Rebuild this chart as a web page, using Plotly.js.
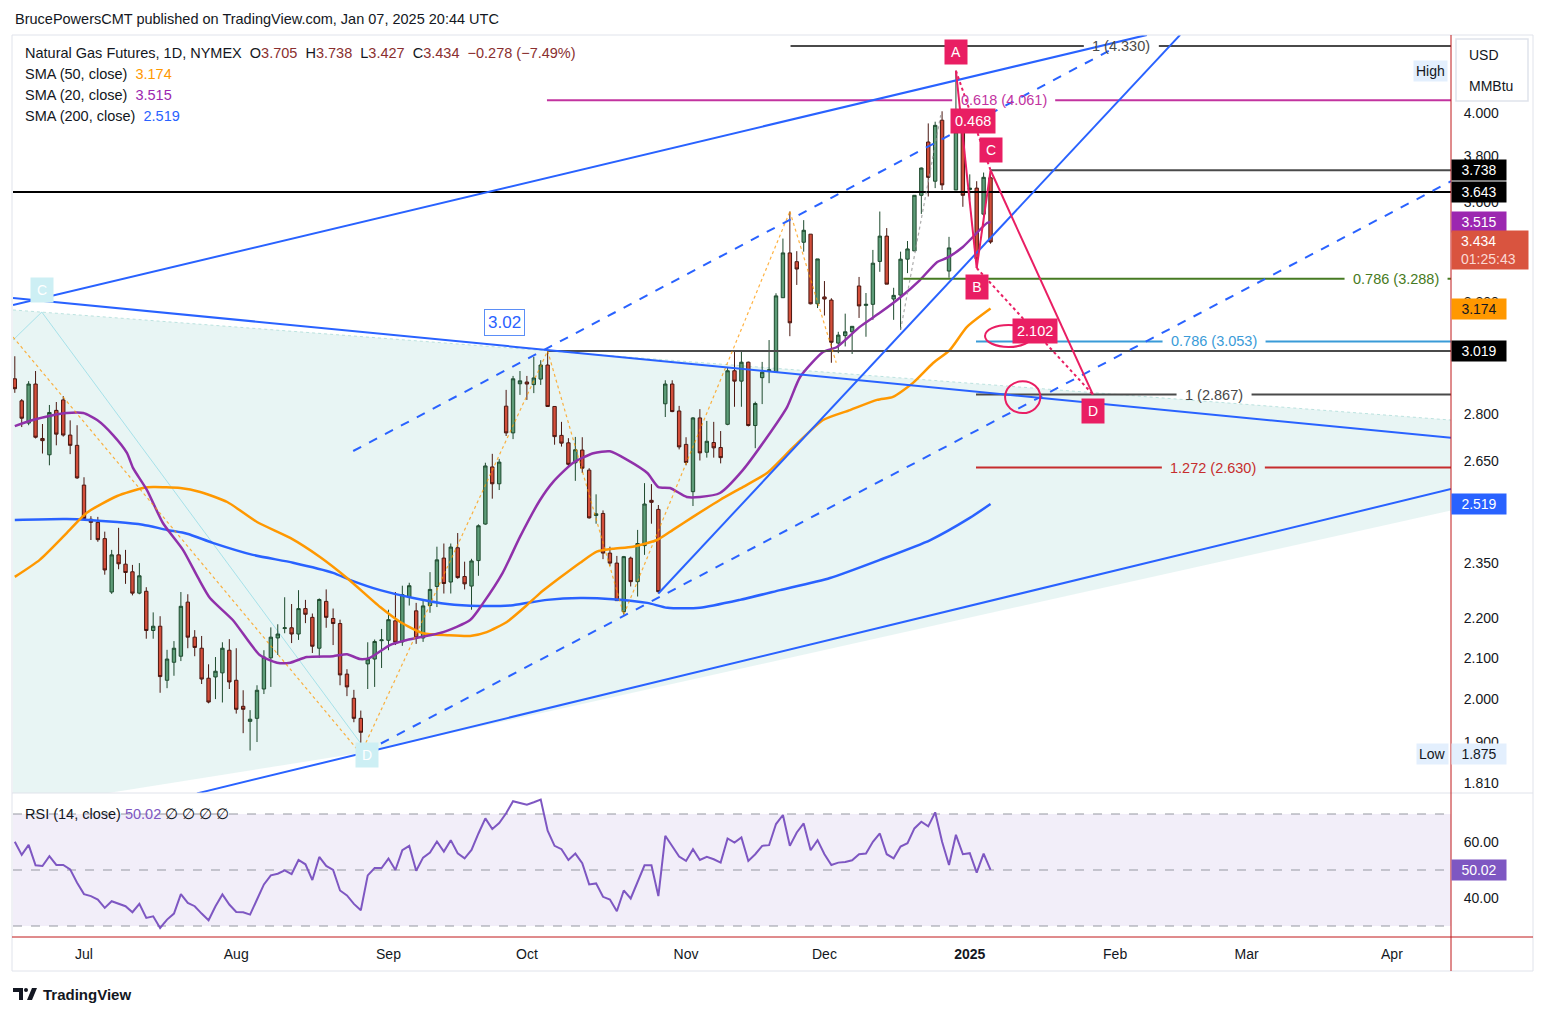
<!DOCTYPE html>
<html><head><meta charset="utf-8">
<script src="https://cdn.plot.ly/plotly-3.0.1.min.js"></script>
<style>html,body{margin:0;padding:0;background:#fff;}#chart{width:1546px;height:1016px;}</style>
</head><body><div id="chart"></div>
<script>
// ---------------- DATA ----------------
const tradingDays = [
 ["2024-06",[17,18,19,20,21,24,25,26,27,28]],
 ["2024-07",[1,2,3,5,8,9,10,11,12,15,16,17,18,19,22,23,24,25,26,29,30,31]],
 ["2024-08",[1,2,5,6,7,8,9,12,13,14,15,16,19,20,21,22,23,26,27,28,29,30]],
 ["2024-09",[3,4,5,6,9,10,11,12,13,16,17,18,19,20,23,24,25,26,27,30]],
 ["2024-10",[1,2,3,4,7,8,9,10,11,14,15,16,17,18,21,22,23,24,25,28,29,30,31]],
 ["2024-11",[1,4,5,6,7,8,11,12,13,14,15,18,19,20,21,22,25,26,27,29]],
 ["2024-12",[2,3,4,5,6,9,10,11,12,13,16,17,18,19,20,23,24,26,27,30,31]],
 ["2025-01",[2,3,6,7]]
];
const dates = tradingDays.flatMap(([m, ds]) => ds.map(d => m + "-" + String(d).padStart(2, "0")));

const open = [2.921,2.846,2.772,2.903,2.722,2.670,2.814,2.849,2.733,2.700,
2.576,2.474,2.465,2.418,2.270,2.372,2.346,2.325,2.267,2.272,
2.169,2.180,2.045,2.089,2.104,2.243,2.152,2.124,2.050,2.053,
2.063,2.119,2.045,1.983,1.948,1.955,2.024,2.100,2.150,2.174,
2.176,2.160,2.226,2.203,2.124,2.245,2.200,2.187,2.060,2.002,
1.955,2.085,2.097,2.143,2.144,2.194,2.140,2.257,2.220,2.150,
2.234,2.285,2.363,2.297,2.392,2.312,2.286,2.356,2.460,2.632,
2.580,2.828,2.740,2.904,2.910,2.901,2.920,2.969,2.827,2.732,
2.708,2.645,2.685,2.622,2.485,2.491,2.377,2.349,2.218,2.363,
2.298,2.398,2.530,2.503,2.836,2.903,2.812,2.703,2.556,2.789,
2.678,2.709,2.693,2.768,2.949,2.913,2.979,2.764,2.925,2.949,
2.945,3.215,3.390,3.355,3.433,3.466,3.192,3.218,3.206,3.047,
3.074,3.088,3.260,3.186,3.190,3.356,3.458,3.210,3.225,3.365,
3.398,3.629,3.865,3.690,3.966,3.318,3.652,3.910,3.654,3.660,
3.549,3.705];
const high = [3.000,2.852,2.913,2.948,2.769,2.832,2.842,2.862,2.781,2.765,
2.600,2.483,2.481,2.438,2.386,2.449,2.386,2.344,2.349,2.283,
2.216,2.206,2.120,2.142,2.270,2.264,2.170,2.155,2.084,2.102,
2.139,2.147,2.124,2.021,1.974,2.033,2.119,2.177,2.185,2.256,
2.238,2.275,2.249,2.213,2.253,2.277,2.226,2.197,2.072,2.022,
1.973,2.139,2.146,2.173,2.223,2.270,2.287,2.295,2.241,2.249,
2.324,2.395,2.404,2.404,2.434,2.353,2.361,2.459,2.645,2.673,
2.657,2.883,2.931,2.948,2.931,2.998,2.986,3.019,2.828,2.776,
2.723,2.727,2.726,2.628,2.548,2.500,2.395,2.369,2.369,2.367,
2.443,2.582,2.579,2.516,2.916,2.916,2.829,2.726,2.792,2.818,
2.779,2.776,2.746,2.962,3.015,3.019,2.981,2.843,2.980,3.058,
3.232,3.448,3.560,3.397,3.524,3.466,3.366,3.279,3.213,3.088,
3.155,3.108,3.295,3.233,3.402,3.560,3.491,3.253,3.395,3.438,
3.630,3.750,3.951,3.959,4.008,3.455,4.205,3.953,3.720,3.690,
3.728,3.738];
const low = [2.873,2.759,2.765,2.722,2.674,2.637,2.700,2.728,2.672,2.595,
2.472,2.414,2.409,2.317,2.265,2.332,2.292,2.261,2.264,2.148,
2.148,2.015,2.026,2.056,2.092,2.124,2.104,2.036,1.990,2.000,
1.992,2.024,1.966,1.921,1.882,1.901,2.012,2.029,2.107,2.162,
2.137,2.145,2.188,2.112,2.100,2.176,2.132,2.033,2.007,1.946,
1.875,2.024,2.029,2.075,2.119,2.132,2.130,2.234,2.135,2.140,
2.215,2.230,2.266,2.266,2.306,2.277,2.223,2.314,2.458,2.535,
2.561,2.730,2.720,2.866,2.849,2.872,2.900,2.826,2.702,2.696,
2.632,2.589,2.613,2.476,2.461,2.360,2.341,2.246,2.210,2.285,
2.258,2.372,2.461,2.266,2.792,2.808,2.687,2.637,2.513,2.652,
2.661,2.661,2.643,2.765,2.826,2.826,2.761,2.691,2.835,2.906,
2.945,3.215,3.072,3.264,3.395,3.190,3.176,3.148,2.977,3.011,
3.035,3.008,3.139,3.070,3.132,3.315,3.267,3.132,3.095,3.310,
3.398,3.550,3.624,3.660,3.652,3.292,3.652,3.580,3.610,3.330,
3.500,3.427];
const close = [2.887,2.788,2.903,2.726,2.715,2.807,2.736,2.733,2.700,2.598,
2.476,2.465,2.415,2.330,2.372,2.347,2.323,2.267,2.314,2.169,
2.180,2.054,2.097,2.124,2.232,2.152,2.126,2.048,1.993,2.067,
2.124,2.041,1.976,1.976,1.953,2.021,2.102,2.152,2.160,2.176,
2.160,2.226,2.211,2.129,2.250,2.203,2.187,2.058,2.029,1.955,
1.923,2.097,2.141,2.145,2.197,2.139,2.263,2.287,2.150,2.233,
2.277,2.358,2.293,2.394,2.309,2.292,2.355,2.455,2.635,2.580,
2.647,2.740,2.921,2.914,2.903,2.924,2.969,2.827,2.728,2.707,
2.640,2.686,2.628,2.478,2.490,2.377,2.349,2.247,2.367,2.298,
2.404,2.519,2.524,2.271,2.903,2.810,2.695,2.646,2.789,2.676,
2.713,2.692,2.661,2.949,2.913,2.979,2.764,2.837,2.944,2.952,
3.222,3.390,3.121,3.326,3.482,3.192,3.366,3.210,3.050,3.076,
3.088,3.108,3.184,3.190,3.349,3.458,3.267,3.224,3.365,3.406,
3.629,3.748,3.707,3.942,3.674,3.410,3.912,3.629,3.660,3.366,
3.707,3.434];

const sma50X = [0,3.6,7.5,10.4,14.8,18.5,20,23.9,26.8,30.7,35,39.8,44.1,48,52.8,55.7,59,62.5,65.8,68.2,71.1,74,75.9,78.8,81.7,84.1,86.4,89.3,92.8,95.1,98,101.9,105.2,108.7,112.5,116.8,120.7,124.6,126.9,129.8,132.7,135.1,137.6,141];
const sma50Y = [2.311,2.358,2.434,2.493,2.543,2.567,2.570,2.567,2.555,2.525,2.466,2.420,2.366,2.308,2.230,2.191,2.162,2.157,2.155,2.165,2.191,2.235,2.267,2.309,2.350,2.381,2.389,2.395,2.414,2.443,2.481,2.531,2.570,2.613,2.694,2.782,2.815,2.849,2.859,2.907,2.976,3.022,3.106,3.174];
const sma20X = [0,2.6,5.5,7.5,9.9,11.9,14.2,16.2,17.1,19.1,21.4,24.3,26.5,28.2,31.5,35.4,37.9,39.8,42.2,46,48,49.9,51.3,54.2,56.7,61.9,65.8,67.7,70.5,73,75.9,77.8,80.7,83.6,86,88.5,91.4,93,94.7,97.1,99,101.9,105.2,108.7,111.6,113.5,116.8,118.8,122.1,125,127.9,130.8,133.3,134.7,137,140.5,141];
const sma20Y = [2.762,2.782,2.798,2.805,2.805,2.782,2.733,2.676,2.628,2.561,2.463,2.386,2.308,2.254,2.196,2.107,2.088,2.088,2.102,2.104,2.109,2.097,2.100,2.132,2.145,2.165,2.196,2.241,2.322,2.423,2.531,2.586,2.645,2.675,2.681,2.654,2.613,2.570,2.567,2.540,2.540,2.552,2.622,2.726,2.825,2.928,3.015,3.033,3.106,3.158,3.215,3.283,3.354,3.370,3.414,3.512,3.515];
const sma200X = [0,7.5,14.8,18.5,22,24.9,28.6,34.4,40.2,46,48.4,52.8,57.6,62.5,67.2,72,76.9,81.7,86.4,91.4,94.3,99,104.8,110.6,117.8,125,132.3,138,141];
const sma200Y = [2.472,2.475,2.466,2.458,2.443,2.432,2.406,2.372,2.350,2.322,2.303,2.275,2.254,2.238,2.233,2.235,2.249,2.254,2.251,2.241,2.228,2.228,2.249,2.275,2.308,2.358,2.414,2.478,2.519];

const rsi = [60.06,55.39,58.98,51.68,51.44,54.91,51.80,51.80,50.24,45.45,
41.38,40.66,39.46,36.47,38.86,38.02,37.07,34.91,37.90,32.87,
33.47,29.28,32.28,34.43,41.38,38.26,37.07,34.43,32.04,37.07,
41.26,37.67,35.03,34.91,34.07,39.46,44.85,48.08,48.68,49.88,
48.56,53.59,52.04,46.41,54.67,51.44,50.00,42.69,40.90,37.90,
35.63,48.08,50.72,50.72,54.07,50.00,57.07,58.62,49.76,54.43,
56.23,60.18,56.59,60.66,55.99,54.19,57.19,63.05,68.44,64.61,
66.77,70.24,74.55,73.95,73.35,74.19,75.15,64.01,58.62,57.43,
53.59,55.87,52.40,44.85,45.21,40.42,39.46,35.27,42.69,39.82,
45.81,51.68,51.68,40.66,62.22,58.38,54.79,53.23,57.43,53.59,
54.67,53.83,52.64,61.26,59.82,61.62,53.23,55.63,58.62,58.86,
66.41,69.64,58.62,63.41,66.65,57.07,60.66,55.63,51.80,52.64,
52.87,53.47,55.63,55.87,60.06,63.05,55.63,54.19,58.38,59.58,
64.85,67.25,65.57,70.60,60.06,51.80,62.57,55.63,55.99,49.04,
55.87,50.02];

const monthTickIdx = [10,32,54,74,97,117,138,159,178,199];
const monthTickText = ["Jul","Aug","Sep","Oct","Nov","Dec","<b>2025</b>","Feb","Mar","Apr"];
const priceTicks = [1.81,1.9,2.0,2.1,2.2,2.35,2.65,2.8,3.2,3.6,3.8,4.0];
const rsiTicks = [40, 60];

// Fibonacci levels
const fibPrice = [4.330, 4.061, 3.288, 3.053, 2.867, 2.630];
const fibText = ["1 (4.330)", "0.618 (4.061)", "0.786 (3.288)", "0.786 (3.053)", "1 (2.867)", "1.272 (2.630)"];
const fibStartIdx = [112.1, 76.9, 128.4, 138.9, 138.9, 138.9];
const fibLabelIdx = [159.9, 142.9, 199.6, 173.3, 173.3, 173.2];

// ABCD pattern points
const abcdName = ["A","B","C","D"];
const abcdIdx = [136, 139, 141, 155.8];
const abcdPrice = [4.205, 3.33, 3.738, 2.867];
const abcdRatio = ["0.468", "2.102"];

// trend lines [idx0, price0, idx1, price1]
const upperChannel = [-0.26, 3.187, 163.6, 4.387];
const triTop = [-0.26, 3.214, 207.54, 2.724];
const triBottom = [26.33, 1.789, 207.54, 2.564];
const steepLine = [93, 2.266, 168.4, 4.387];
const dashUpper = [48.9, 2.682, 158.3, 4.309];
const dashLower = [50.6, 1.879, 207.54, 3.69];

// zigzag / pattern legs
const zigX = [-0.26, 50, 77, 88, 112, 118.7];
const zigY = [3.069, 1.875, 3.019, 2.210, 3.560, 2.977];
const grayZigX = [128, 133.8];
const grayZigY = [3.095, 3.99];
const tealX = [-0.26, 3.9, 50.9];
const tealY = [3.058, 3.161, 1.879];
const fillTopX = [-0.26, 207.54];
const fillTopY = [3.169, 2.782];
const fillBotX = [207.54, 50.9, -0.26];
const fillBotY = [2.50, 1.879, 1.758];

// horizontal levels
const level3643 = 3.643, level3738 = 3.738, level3019 = 3.019;
const level3019Start = 77, level3738Start = 141;

// right-scale labels
const axisLabelVal = [3.738, 3.643, 3.515, 3.434, 3.174, 3.019, 2.519];
const axisLabelText = ["3.738", "3.643", "3.515", "\u20023.434<br>\u2002<span style='color:#fbd9d4'>01:25:43</span>", "3.174", "3.019", "2.519"];

// ---------------- LAYOUT HELPERS ----------------
const FONT = "Liberation Sans, Arial, sans-serif";
const TXT = "#131722";
const X0 = -0.26, X1 = 207.54;
const pX = px => (px - 13) / 1438;
const pY = py => (937 - py) / 902;
const L10 = v => Math.log10(v);
const barIdx = dates.map((d, i) => i);

const axisLabelBg = ["#000000", "#000000", "#9c27b0", "#d9543f", "#ff9800", "#000000", "#2962ff"];
const axisLabelFg = ["#ffffff", "#ffffff", "#ffffff", "#ffffff", "#131722", "#ffffff", "#ffffff"];
const fibColor = ["#4a4a4a", "#c2339f", "#467a22", "#3a9bd8", "#4a4a4a", "#c62d2d"];
const PINK = "#e91e63", BLUE = "#2962ff";

const shapes = [];
const annotations = [];
function line(x0, y0, x1, y1, color, width, dash, layer) {
  shapes.push({type: "line", xref: "x", yref: "y", x0, y0, x1, y1,
    line: {color, width, dash: dash || "solid"}, layer: layer || "above"});
}
function ann(o) {
  annotations.push(Object.assign({showarrow: false, yanchor: "middle", font: {family: FONT, size: 14, color: TXT}}, o));
}

// mint fill
{
  const xs = fillTopX.concat(fillBotX), ys = fillTopY.concat(fillBotY);
  let p = "M" + xs[0] + "," + ys[0];
  for (let k = 1; k < xs.length; k++) p += " L" + xs[k] + "," + ys[k];
  shapes.push({type: "path", xref: "x", yref: "y", path: p + " Z", fillcolor: "rgba(178,223,219,0.3)", line: {width: 0}, layer: "below"});
  line(fillTopX[0], fillTopY[0], fillTopX[1], fillTopY[1], "rgba(150,210,205,0.6)", 1, "dot", "below");
}
// teal pattern legs
for (let k = 0; k < tealX.length - 1; k++) line(tealX[k], tealY[k], tealX[k + 1], tealY[k + 1], "rgba(150,220,230,0.8)", 1, "solid", "below");

// RSI band and levels
shapes.push({type: "rect", xref: "paper", yref: "y2", x0: 0, x1: 1, y0: 30, y1: 70, fillcolor: "rgba(126,87,194,0.1)", line: {width: 0}, layer: "below"});
[70, 50, 30].forEach(v => shapes.push({type: "line", xref: "paper", yref: "y2", x0: 0, x1: 1, y0: v, y1: v, line: {color: "#9598a1", width: 1, dash: "dash"}, layer: "below"}));

// horizontal levels
line(X0, level3643, X1, level3643, "#000000", 2);
line(level3738Start, level3738, X1, level3738, "#4a4a4a", 2);
line(level3019Start, level3019, X1, level3019, "#4a4a4a", 2);

// fib lines with label gaps
fibPrice.forEach((p, k) => {
  const hw = (fibText[k].length * 7.0 / 2 + 6) / 6.92;
  line(fibStartIdx[k], p, fibLabelIdx[k] - hw, p, fibColor[k], 2);
  line(fibLabelIdx[k] + hw, p, X1 + 1, p, fibColor[k], 2);
  ann({xref: "x", yref: "y", x: fibLabelIdx[k], y: L10(p), text: fibText[k], font: {family: FONT, size: 14.5, color: fibColor[k]}});
});

// zigzags
for (let k = 0; k < zigX.length - 1; k++) line(zigX[k], zigY[k], zigX[k + 1], zigY[k + 1], "rgba(255,152,0,0.75)", 1.2, "dot");
line(grayZigX[0], grayZigY[0], grayZigX[1], grayZigY[1], "rgba(150,150,150,0.8)", 1.2, "dot");

// blue trend lines
[upperChannel, triTop, triBottom, steepLine].forEach(t => line(t[0], t[1], t[2], t[3], BLUE, 2));
[dashUpper, dashLower].forEach(t => line(t[0], t[1], t[2], t[3], BLUE, 2, "dash"));

// ABCD pattern
const [A, B, C, D] = [0, 1, 2, 3].map(k => [abcdIdx[k], abcdPrice[k]]);
line(A[0], A[1], B[0], B[1], PINK, 2);
line(B[0], B[1], C[0], C[1], PINK, 2);
line(C[0], C[1], D[0], D[1], PINK, 2);
line(A[0], A[1], C[0], C[1], PINK, 2, "dot");
line(B[0], B[1], D[0], D[1], PINK, 2, "dot");
const abcdShift = [19, -19, 20, -16];
abcdName.forEach((n, k) => ann({xref: "x", yref: "y", x: abcdIdx[k], y: L10(abcdPrice[k]), yshift: abcdShift[k], text: n,
  bgcolor: PINK, borderpad: 4, width: 14, font: {family: FONT, size: 14, color: "#fff"}}));
ann({xref: "x", yref: "y", x: (A[0] + C[0]) / 2, y: (L10(A[1]) + L10(C[1])) / 2, text: abcdRatio[0], bgcolor: PINK, borderpad: 4, font: {family: FONT, size: 14.5, color: "#fff"}});
ann({xref: "x", yref: "y", x: (B[0] + D[0]) / 2, y: (L10(B[1]) + L10(D[1])) / 2, text: abcdRatio[1], bgcolor: PINK, borderpad: 4, font: {family: FONT, size: 14.5, color: "#fff"}});

// hand-drawn ellipses
shapes.push({type: "circle", xref: "x", yref: "y", x0: 140.2, x1: 147.0, y0: 3.033, y1: 3.113, line: {color: PINK, width: 2}});
shapes.push({type: "circle", xref: "x", yref: "y", x0: 143.1, x1: 148.2, y0: 2.805, y1: 2.913, line: {color: PINK, width: 2}});

// teal C / D labels
ann({xref: "x", yref: "y", x: tealX[1], y: L10(tealY[1]), yshift: 22, text: "C", bgcolor: "#cdeff4", borderpad: 4, width: 14, font: {family: FONT, size: 14, color: "#fff"}});
ann({xref: "x", yref: "y", x: tealX[2], y: L10(tealY[2]), yshift: -3, text: "D", bgcolor: "#cdeff4", borderpad: 4, width: 14, font: {family: FONT, size: 14, color: "#fff"}});

// 3.02 box
ann({xref: "x", yref: "y", x: 70.8, y: L10(3.124), text: "3.02", bgcolor: "#ffffff", bordercolor: "#5b8ef7", borderwidth: 1, borderpad: 3,
  font: {family: FONT, size: 17, color: BLUE}});

// right-scale labels
axisLabelVal.forEach((v, k) => {
  const two = axisLabelText[k].indexOf("<br>") >= 0;
  ann({xref: "paper", yref: "y", x: pX(1451), xanchor: "left", y: L10(v), yshift: two ? -8 : 0, text: axisLabelText[k],
    bgcolor: axisLabelBg[k], borderpad: 2, width: two ? 72 : 50, height: two ? 34 : 16, align: two ? "left" : "center",
    font: {family: FONT, size: 14, color: axisLabelFg[k]}});
});
ann({xref: "paper", yref: "y", x: pX(1451), xanchor: "left", y: L10(1.875), text: "1.875", bgcolor: "#e3effd", borderpad: 2, width: 50, height: 16, font: {family: FONT, size: 14, color: TXT}});
ann({xref: "paper", yref: "y", x: pX(1449), xanchor: "right", y: L10(1.875), text: "Low", bgcolor: "#e3effd", borderpad: 2, font: {family: FONT, size: 14, color: TXT}});
ann({xref: "paper", yref: "y", x: pX(1448), xanchor: "right", y: L10(4.205), text: "High", bgcolor: "#e3effd", borderpad: 2, font: {family: FONT, size: 14, color: TXT}});
ann({xref: "paper", yref: "y2", x: pX(1451), xanchor: "left", y: rsi[rsi.length - 1], text: rsi[rsi.length - 1].toFixed(2), bgcolor: "#7e57c2", borderpad: 2, width: 50, height: 16, font: {family: FONT, size: 14, color: "#fff"}});

// USD / MMBtu box
shapes.push({type: "rect", xref: "paper", yref: "paper", x0: pX(1456), x1: pX(1528), y0: pY(101), y1: pY(39), line: {color: "#e0e3eb", width: 1.5}, fillcolor: "#ffffff"});
ann({xref: "paper", yref: "paper", x: pX(1467), xanchor: "left", y: pY(55), text: "USD"});
ann({xref: "paper", yref: "paper", x: pX(1467), xanchor: "left", y: pY(86), text: "MMBtu"});

// legend block
const vc = "#8a2f2f";
const sp = "\u00a0\u00a0";
const LF = {family: FONT, size: 14.5, color: TXT};
ann({xref: "paper", yref: "paper", x: pX(23), xanchor: "left", y: pY(53), font: LF,
  text: "Natural Gas Futures, 1D, NYMEX" + sp + "O<span style='color:" + vc + "'>" + open[open.length - 1].toFixed(3) + "</span>" + sp +
        "H<span style='color:" + vc + "'>" + high[high.length - 1].toFixed(3) + "</span>" + sp +
        "L<span style='color:" + vc + "'>" + low[low.length - 1].toFixed(3) + "</span>" + sp +
        "C<span style='color:" + vc + "'>" + close[close.length - 1].toFixed(3) + "</span>" + sp +
        "<span style='color:" + vc + "'>\u22120.278 (\u22127.49%)</span>"});
ann({xref: "paper", yref: "paper", x: pX(23), xanchor: "left", y: pY(74), font: LF, text: "SMA (50, close)\u00a0 <span style='color:#ff9800'>" + sma50Y[sma50Y.length - 1].toFixed(3) + "</span>"});
ann({xref: "paper", yref: "paper", x: pX(23), xanchor: "left", y: pY(95), font: LF, text: "SMA (20, close)\u00a0 <span style='color:#9c27b0'>" + sma20Y[sma20Y.length - 1].toFixed(3) + "</span>"});
ann({xref: "paper", yref: "paper", x: pX(23), xanchor: "left", y: pY(116), font: LF, text: "SMA (200, close)\u00a0 <span style='color:#2962ff'>" + sma200Y[sma200Y.length - 1].toFixed(3) + "</span>"});
ann({xref: "paper", yref: "paper", x: pX(23), xanchor: "left", y: pY(814), font: LF, text: "RSI (14, close) <span style='color:#7e57c2'>" + rsi[rsi.length - 1].toFixed(2) + "</span> \u2205 \u2205 \u2205 \u2205"});

// header & footer
ann({xref: "paper", yref: "paper", x: pX(13), xanchor: "left", y: pY(19), font: LF, text: "BrucePowersCMT published on TradingView.com, Jan 07, 2025 20:44 UTC"});
ann({xref: "paper", yref: "paper", x: pX(41), xanchor: "left", y: pY(994), text: "<b>TradingView</b>", font: {family: FONT, size: 15, color: TXT}});
shapes.push({type: "path", xref: "paper", yref: "paper", fillcolor: TXT, line: {width: 0},
  path: `M${pX(13)},${pY(988)} L${pX(23)},${pY(988)} L${pX(23)},${pY(1000)} L${pX(19)},${pY(1000)} L${pX(19)},${pY(992)} L${pX(13)},${pY(992)} Z`});
shapes.push({type: "circle", xref: "paper", yref: "paper", fillcolor: TXT, line: {width: 0}, x0: pX(24), x1: pX(28), y0: pY(992), y1: pY(988)});
shapes.push({type: "path", xref: "paper", yref: "paper", fillcolor: TXT, line: {width: 0},
  path: `M${pX(27)},${pY(1000)} L${pX(32)},${pY(988)} L${pX(37)},${pY(988)} L${pX(32)},${pY(1000)} Z`});

// frame
shapes.push({type: "rect", xref: "paper", yref: "paper", x0: pX(12), x1: pX(1533), y0: pY(971), y1: pY(35), line: {color: "#e0e3eb", width: 1}});
shapes.push({type: "line", xref: "paper", yref: "paper", x0: pX(12), x1: pX(1533), y0: pY(793), y1: pY(793), line: {color: "#e0e3eb", width: 1}});
shapes.push({type: "line", xref: "paper", yref: "paper", x0: 1, x1: 1, y0: pY(971), y1: pY(35), line: {color: "#c0181a", width: 1}});
shapes.push({type: "line", xref: "paper", yref: "paper", x0: pX(12), x1: pX(1533), y0: 0, y1: 0, line: {color: "#c0181a", width: 1}});

// ---------------- TRACES ----------------
const traces = [
  {type: "candlestick", x: barIdx, open, high, low, close, text: dates, hoverinfo: "x+text",
   increasing: {line: {color: "#1e4a2e", width: 1}, fillcolor: "#5d9c78"},
   decreasing: {line: {color: "#4a1710", width: 1}, fillcolor: "#d34e3a"},
   whiskerwidth: 0, xaxis: "x", yaxis: "y"},
  {type: "scatter", mode: "lines", x: sma200X, y: sma200Y, line: {color: "#2962ff", width: 2.5, shape: "spline", smoothing: 0.6}, xaxis: "x", yaxis: "y", hoverinfo: "skip"},
  {type: "scatter", mode: "lines", x: sma50X, y: sma50Y, line: {color: "#ff9800", width: 2.5, shape: "spline", smoothing: 0.6}, xaxis: "x", yaxis: "y", hoverinfo: "skip"},
  {type: "scatter", mode: "lines", x: sma20X, y: sma20Y, line: {color: "#9031aa", width: 2.5, shape: "spline", smoothing: 0.6}, xaxis: "x", yaxis: "y", hoverinfo: "skip"},
  {type: "scatter", mode: "lines", x: barIdx, y: rsi, line: {color: "#7e57c2", width: 2}, xaxis: "x", yaxis: "y2", hoverinfo: "skip"}
];

const layout = {
  width: 1546, height: 1016,
  margin: {l: 13, r: 95, t: 35, b: 79},
  paper_bgcolor: "#ffffff", plot_bgcolor: "#ffffff",
  showlegend: false,
  font: {family: FONT, size: 14, color: TXT},
  xaxis: {anchor: "y2", domain: [0, 1], range: [X0, X1], tickvals: monthTickIdx, ticktext: monthTickText,
    showgrid: false, zeroline: false, showline: false, ticks: "outside", ticklen: 4, tickcolor: "rgba(0,0,0,0)",
    tickfont: {family: FONT, size: 14, color: TXT}, rangeslider: {visible: false}, fixedrange: true},
  yaxis: {domain: [144 / 902, 1], type: "log", range: [0.25280, 0.64212], side: "right", anchor: "x",
    tickvals: priceTicks, ticktext: priceTicks.map(v => v.toFixed(3)), showgrid: false, zeroline: false, showline: false,
    ticks: "outside", ticklen: 9, tickcolor: "rgba(0,0,0,0)", tickfont: {family: FONT, size: 14, color: TXT}, fixedrange: true},
  yaxis2: {domain: [0, 144 / 902], range: [26.07, 77.5], side: "right", anchor: "x",
    tickvals: rsiTicks, ticktext: rsiTicks.map(v => v.toFixed(2)), showgrid: false, zeroline: false, showline: false,
    ticks: "outside", ticklen: 9, tickcolor: "rgba(0,0,0,0)", tickfont: {family: FONT, size: 14, color: TXT}, fixedrange: true},
  shapes, annotations
};

Plotly.newPlot("chart", traces, layout, {displayModeBar: false, staticPlot: true});
</script>
</body></html>
